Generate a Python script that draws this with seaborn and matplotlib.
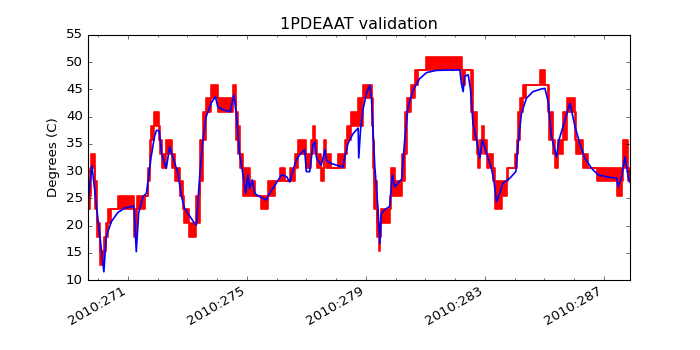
import matplotlib
matplotlib.use("Agg")
import matplotlib.pyplot as plt
import matplotlib.ticker as mticker
import seaborn as sns

# model prediction (blue), day of year 2010
model_day = [269.64, 269.79, 270.19, 270.27, 270.44, 270.66, 270.89, 271.20, 271.28, 271.36,
             271.50, 271.62, 271.78, 271.89, 271.96, 272.05, 272.14, 272.29, 272.40, 272.51,
             272.68, 272.79, 272.90, 273.24, 273.30, 273.41, 273.52, 273.63, 273.80, 273.94,
             274.02, 274.19, 274.44, 274.56, 274.64, 274.75, 274.87, 274.96, 275.03, 275.09,
             275.18, 275.26, 275.43, 275.65, 275.76, 275.99, 276.16, 276.33, 276.44, 276.55,
             276.66, 276.77, 276.94, 277.00, 277.11, 277.22, 277.28, 277.34, 277.50, 277.62,
             277.67, 277.84, 278.23, 278.29, 278.40, 278.57, 278.74, 278.76, 278.82, 278.90,
             279.02, 279.13, 279.19, 279.30, 279.41, 279.47, 279.52, 279.63, 279.80, 279.89,
             279.97, 280.08, 280.20, 280.31, 280.42, 280.59, 280.81, 281.04, 281.37, 282.16,
             282.21, 282.27, 282.32, 282.44, 282.52, 282.60, 282.72, 282.83, 282.92, 283.06,
             283.22, 283.30, 283.39, 283.48, 283.61, 283.84, 284.04, 284.12, 284.23, 284.40,
             284.62, 284.91, 285.02, 285.13, 285.24, 285.41, 285.49, 285.63, 285.86, 286.03,
             286.19, 286.36, 286.59, 286.81, 287.15, 287.43, 287.48, 287.60, 287.71, 287.82,
             287.88]
model_temp = [23.5, 31.0, 11.5, 18.0, 20.7, 22.4, 23.2, 23.6, 15.2, 22.3,
              25.3, 25.9, 32.6, 36.3, 37.5, 37.4, 33.0, 30.5, 34.5, 32.6,
              29.6, 25.6, 23.2, 20.4, 20.1, 29.0, 35.7, 40.0, 42.5, 43.7,
              41.8, 41.3, 40.9, 44.0, 40.6, 33.3, 29.3, 25.9, 29.3, 26.8,
              28.4, 25.9, 25.3, 24.7, 25.9, 27.8, 29.3, 29.0, 28.0, 30.2,
              32.0, 33.0, 33.9, 29.9, 29.9, 34.8, 35.4, 32.4, 31.1, 33.9,
              32.0, 31.4, 30.7, 32.6, 35.1, 36.9, 37.9, 32.4, 37.6, 41.2,
              44.3, 45.8, 43.1, 30.8, 22.9, 16.7, 22.2, 22.9, 23.5, 29.3,
              27.1, 27.8, 28.5, 36.0, 41.8, 44.9, 47.0, 48.1, 48.5, 48.6,
              46.1, 44.6, 47.4, 47.7, 44.9, 38.8, 35.7, 32.4, 35.7, 33.3,
              30.5, 28.4, 24.4, 25.6, 27.8, 28.7, 29.9, 35.1, 40.6, 43.4,
              44.6, 45.1, 45.2, 42.7, 36.3, 32.6, 35.7, 38.2, 42.5, 38.2,
              35.1, 32.4, 30.5, 29.3, 28.9, 28.7, 27.1, 29.0, 32.6, 29.0,
              28.0]

# telemetry (red): quantized, stretches where it toggles between levels lo..hi
tlm_day = [269.64, 269.71, 269.77, 269.88, 269.97, 270.05, 270.20, 270.25, 270.32, 270.44,
           270.66, 271.22, 271.31, 271.56, 271.66, 271.74, 271.79, 271.86, 272.03, 272.08,
           272.13, 272.29, 272.48, 272.57, 272.74, 272.84, 272.90, 273.06, 273.30, 273.41,
           273.51, 273.64, 273.80, 274.03, 274.53, 274.64, 274.70, 274.76, 274.87, 275.09,
           275.26, 275.49, 275.71, 275.93, 276.10, 276.27, 276.44, 276.61, 276.72, 277.00,
           277.17, 277.22, 277.28, 277.34, 277.50, 277.58, 277.67, 277.82, 278.05, 278.29,
           278.35, 278.51, 278.74, 278.90, 279.19, 279.23, 279.28, 279.36, 279.44, 279.48,
           279.52, 279.80, 279.86, 279.97, 280.20, 280.31, 280.38, 280.53, 280.64, 280.75,
           281.01, 282.22, 282.33, 282.52, 282.59, 282.72, 282.77, 282.85, 282.90, 282.96,
           283.08, 283.28, 283.34, 283.56, 283.73, 283.78, 284.01, 284.07, 284.12, 284.18,
           284.29, 284.37, 284.85, 285.02, 285.11, 285.16, 285.30, 285.36, 285.47, 285.63,
           285.75, 286.03, 286.08, 286.31, 286.47, 286.76, 287.43, 287.60, 287.65, 287.82,
           287.88]
tlm_lo = [23.0, 25.5, 30.6, 23.0, 17.9, 12.8, 15.3, 17.9, 20.4, 23.0,
          23.0, 17.9, 23.0, 25.5, 28.1, 33.2, 35.7, 38.3, 35.7, 33.2,
          30.6, 33.2, 30.6, 28.1, 25.5, 23.0, 20.4, 17.9, 20.4, 28.1,
          35.7, 40.8, 43.4, 40.8, 43.4, 35.7, 33.2, 30.6, 25.5, 25.5,
          25.5, 23.0, 25.5, 28.1, 28.1, 28.1, 28.1, 30.6, 33.2, 30.6,
          33.2, 35.7, 33.2, 30.6, 28.1, 33.2, 30.6, 30.6, 30.6, 33.2,
          35.7, 38.3, 38.3, 43.4, 38.3, 30.6, 23.0, 17.9, 15.3, 17.9,
          20.4, 23.0, 25.5, 25.5, 28.1, 33.2, 40.8, 43.4, 45.9, 48.5,
          48.5, 45.9, 48.5, 40.8, 35.7, 33.2, 30.6, 33.2, 35.7, 33.2,
          30.6, 28.1, 23.0, 25.5, 28.1, 30.6, 30.6, 33.2, 35.7, 40.8,
          43.4, 45.9, 45.9, 45.9, 40.8, 35.7, 33.2, 30.6, 33.2, 35.7,
          40.8, 35.7, 33.2, 30.6, 30.6, 28.1, 25.5, 28.1, 30.6, 28.1,
          28.1]
tlm_hi = [25.5, 30.6, 33.2, 28.1, 20.4, 15.3, 17.9, 20.4, 23.0, 23.0,
          25.5, 23.0, 25.5, 25.5, 30.6, 35.7, 38.3, 40.8, 38.3, 35.7,
          33.2, 35.7, 33.2, 30.6, 28.1, 25.5, 23.0, 20.4, 25.5, 35.7,
          40.8, 43.4, 45.9, 43.4, 45.9, 40.8, 38.3, 33.2, 30.6, 28.1,
          25.5, 25.5, 28.1, 28.1, 30.6, 28.1, 30.6, 33.2, 35.7, 33.2,
          35.7, 38.3, 35.7, 33.2, 30.6, 35.7, 33.2, 30.6, 33.2, 35.7,
          38.3, 40.8, 43.4, 45.9, 43.4, 35.7, 28.1, 20.4, 17.9, 20.4,
          23.0, 25.5, 30.6, 28.1, 33.2, 40.8, 43.4, 45.9, 48.5, 48.5,
          51.0, 48.5, 48.5, 48.5, 40.8, 35.7, 33.2, 35.7, 38.3, 35.7,
          33.2, 30.6, 28.1, 28.1, 30.6, 30.6, 33.2, 35.7, 40.8, 43.4,
          45.9, 45.9, 48.5, 45.9, 45.9, 40.8, 35.7, 33.2, 35.7, 40.8,
          43.4, 40.8, 35.7, 33.2, 30.6, 30.6, 30.6, 30.6, 35.7, 30.6,
          30.6]

major_days = [271, 275, 279, 283, 287]

plt.style.use("classic")
fig, ax = plt.subplots(figsize=(8.75, 4.375), dpi=80)
fig.patch.set_facecolor("white")

ax.fill_between(tlm_day, tlm_lo, tlm_hi, step="post", color="r", linewidth=0)
sns.lineplot(x=tlm_day, y=tlm_lo, ax=ax, color="r", linewidth=1.5,
             drawstyle="steps-post", sort=False, estimator=None)
sns.lineplot(x=tlm_day, y=tlm_hi, ax=ax, color="r", linewidth=1.5,
             drawstyle="steps-post", sort=False, estimator=None)
sns.lineplot(x=model_day, y=model_temp, ax=ax, color="b", linewidth=1.5,
             sort=False, estimator=None)

ax.set_xlim(model_day[0], model_day[-1])
ax.set_ylim(10, 55)
ax.yaxis.set_major_locator(mticker.MultipleLocator(5))
ax.xaxis.set_major_locator(mticker.FixedLocator(major_days))
ax.xaxis.set_minor_locator(mticker.MultipleLocator(1))
ax.xaxis.set_major_formatter(mticker.FuncFormatter(lambda v, p: "2010:%d" % round(v)))

ax.set_title("1PDEAAT validation")
ax.set_ylabel("Degrees (C)")
ax.set_xlabel("")
fig.autofmt_xdate()

fig.savefig("out.png", dpi=80, facecolor="white")
